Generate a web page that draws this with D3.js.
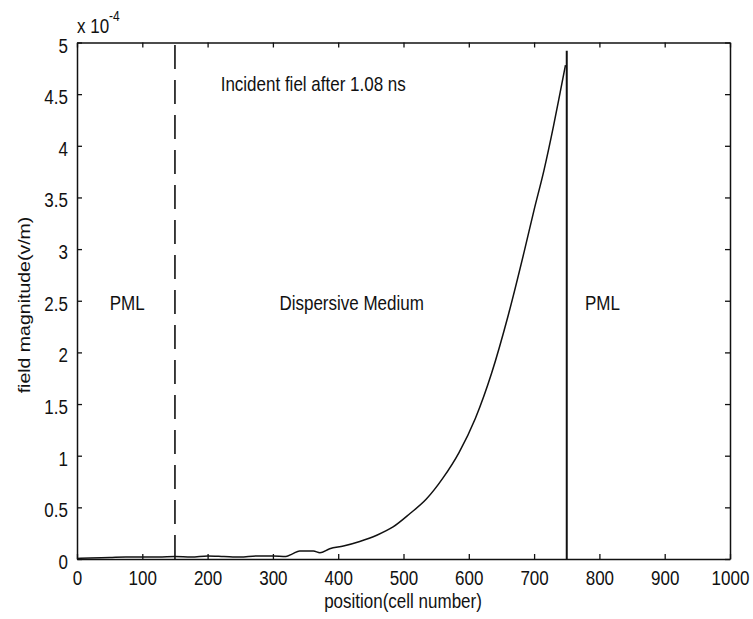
<!DOCTYPE html>
<html>
<head>
<meta charset="utf-8">
<script src="https://cdn.jsdelivr.net/npm/d3@7"></script>
<style>
  html, body { margin: 0; padding: 0; background: #fff; }
  svg text { font-family: 'Liberation Sans', Arial, Helvetica, sans-serif; fill: #111; }
</style>
</head>
<body>
<svg id="chart" width="753" height="619"></svg>
<script>
// field curve, position in cells, magnitude in units of 1e-4 V/m
const positions = [0, 20, 50, 75, 100, 125, 150, 175, 200, 225, 250, 275, 300, 320, 330, 341, 362, 372, 387, 408,
  433, 459, 484, 510, 535, 560, 585, 610, 635, 660, 685, 700, 715, 730, 740, 748];
const magnitudes = [0.005, 0.01, 0.015, 0.02, 0.02, 0.02, 0.025, 0.02, 0.03, 0.025, 0.02, 0.03, 0.03, 0.025, 0.05, 0.077,
  0.077, 0.06, 0.10, 0.126, 0.17, 0.23, 0.31, 0.44, 0.58, 0.78, 1.03, 1.36, 1.80, 2.35, 2.98, 3.38, 3.76, 4.20, 4.52, 4.78];

// region boundaries
const leftBoundary = [[150, 0], [150, 5]];
const rightBoundary = [[750, 0], [750, 4.92]];

const xTicks = [0, 100, 200, 300, 400, 500, 600, 700, 800, 900, 1000];
const yTicks = [0, 0.5, 1, 1.5, 2, 2.5, 3, 3.5, 4, 4.5, 5];

const regionLabels = [
  {text: 'PML', x: 50, y: 2.5},
  {text: 'Dispersive Medium', x: 310, y: 2.5},
  {text: 'PML', x: 778, y: 2.5}
];
const title = 'Incident fiel after 1.08 ns';

const svg = d3.select('#chart');
const STRETCH = 1.22; // the scanned figure is taller than it is wide

const x = d3.scaleLinear().domain([0, 1000]).range([77, 730]);
const y = d3.scaleLinear().domain([0, 5]).range([559, 42.5]);

function styleAxis(g) {
  g.select('.domain').attr('stroke', '#111').attr('stroke-width', 1.5);
  g.selectAll('.tick line').attr('stroke', '#111').attr('stroke-width', 1.3);
}

// bottom axis
svg.append('g')
  .attr('transform', `translate(0,${y(0)})`)
  .call(d3.axisBottom(x).tickValues(xTicks).tickSizeInner(-5).tickSizeOuter(0).tickFormat(d3.format('d')))
  .call(styleAxis)
  .call(g => g.selectAll('.tick text')
    .attr('y', null).attr('dy', null)
    .attr('font-size', 17)
    .attr('transform', `translate(0,26) scale(1,${STRETCH})`));

// left axis
svg.append('g')
  .attr('transform', `translate(${x(0)},0)`)
  .call(d3.axisLeft(y).tickValues(yTicks).tickSizeInner(-5).tickSizeOuter(0).tickFormat(d => String(d)))
  .call(styleAxis)
  .call(g => g.selectAll('.tick text')
    .attr('x', null).attr('dy', null)
    .attr('font-size', 17)
    .attr('transform', `translate(-9,9.5) scale(1,${STRETCH})`));

// mirrored top and right axes
svg.append('g')
  .attr('transform', `translate(0,${y(5)})`)
  .call(d3.axisTop(x).tickValues(xTicks).tickSizeInner(-5).tickSizeOuter(0).tickFormat(''))
  .call(styleAxis);
svg.append('g')
  .attr('transform', `translate(${x(1000)},0)`)
  .call(d3.axisRight(y).tickValues(yTicks).tickSizeInner(-5).tickSizeOuter(0).tickFormat(''))
  .call(styleAxis);

// exponent label
const expo = svg.append('text')
  .attr('transform', `translate(77,33) scale(1,${STRETCH})`)
  .attr('font-size', 17);
expo.append('tspan').text('x 10');
expo.append('tspan').attr('font-size', 12).attr('dy', -10).text('-4');

const line = d3.line().x(d => x(d[0])).y(d => y(d[1]));

svg.append('path')
  .datum(leftBoundary)
  .attr('d', line)
  .attr('fill', 'none')
  .attr('stroke', '#111')
  .attr('stroke-width', 1.6)
  .attr('stroke-dasharray', '24,11');

svg.append('path')
  .datum(rightBoundary)
  .attr('d', line)
  .attr('fill', 'none')
  .attr('stroke', '#111')
  .attr('stroke-width', 2);

svg.append('path')
  .datum(positions.map((p, i) => [p, magnitudes[i]]))
  .attr('d', line.curve(d3.curveMonotoneX))
  .attr('fill', 'none')
  .attr('stroke', '#111')
  .attr('stroke-width', 1.5);

// annotations
svg.append('text')
  .attr('transform', `translate(${x(220)},91) scale(1,${STRETCH})`)
  .attr('font-size', 17)
  .text(title);

svg.selectAll('.region')
  .data(regionLabels)
  .join('text')
  .attr('class', 'region')
  .attr('transform', d => `translate(${x(d.x)},${y(d.y) + 9}) scale(1,${STRETCH})`)
  .attr('font-size', 17)
  .text(d => d.text);

// axis titles
svg.append('text')
  .attr('transform', `translate(403,608) scale(1,${STRETCH})`)
  .attr('text-anchor', 'middle')
  .attr('font-size', 17)
  .text('position(cell number)');

svg.append('text')
  .attr('transform', `translate(30,305) rotate(-90) scale(${STRETCH},1)`)
  .attr('text-anchor', 'middle')
  .attr('font-size', 16)
  .text('field magnitude(v/m)');
</script>
</body>
</html>
